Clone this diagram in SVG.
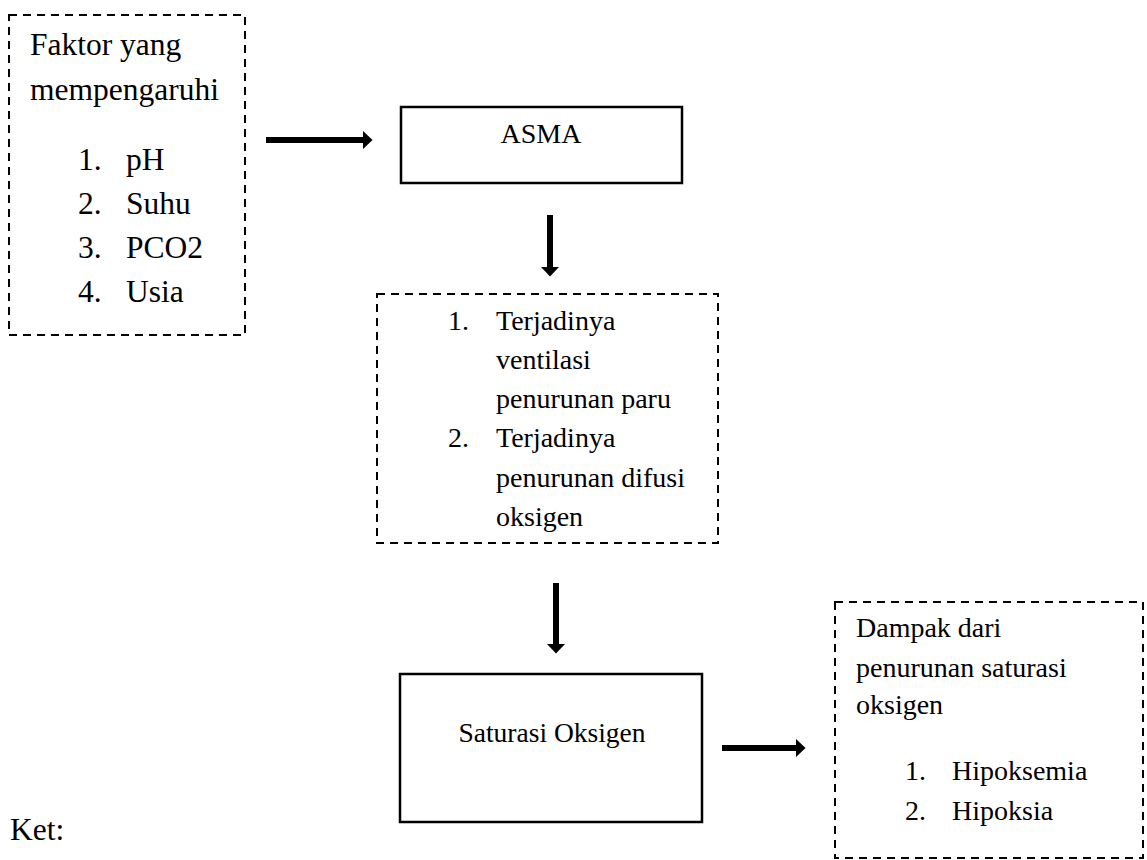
<svg xmlns="http://www.w3.org/2000/svg" width="1147" height="860" viewBox="0 0 1147 860">
<style>
text{font-family:"Liberation Serif","Times New Roman",serif;fill:#000;}
.t{font-size:28px;}
.f{font-size:31.5px;}
.b{font-size:27.5px;}
.dash{fill:none;stroke:#000;stroke-width:2;stroke-dasharray:8,6;}
.solid{fill:none;stroke:#000;stroke-width:2.5;}
.conn{stroke:#000;stroke-width:6;fill:none;}
</style>
<defs>
<marker id="ah" markerWidth="3" markerHeight="3" refX="0" refY="1.5" orient="auto" markerUnits="strokeWidth">
<path d="M0,0 L1.6,1.5 L0,3 z" fill="#000"/>
</marker>
</defs>
<rect width="1147" height="860" fill="#fff"/>
<g id="faktor">
<rect class="dash" x="9" y="15" width="236" height="320"/>
<text class="f" x="30" y="55">Faktor yang</text>
<text class="f" x="30" y="100">mempengaruhi</text>
<text class="f" x="78" y="170">1.</text><text class="f" x="126" y="170">pH</text>
<text class="f" x="78" y="214">2.</text><text class="f" x="126" y="214">Suhu</text>
<text class="f" x="78" y="258">3.</text><text class="f" x="126" y="258">PCO2</text>
<text class="f" x="78" y="302">4.</text><text class="f" x="126" y="302">Usia</text>
</g>
<g id="asma">
<rect class="solid" x="401" y="107" width="281" height="76"/>
<text class="t" x="541" y="143" text-anchor="middle">ASMA</text>
</g>
<g id="proses">
<rect class="dash" x="377" y="294" width="341" height="249"/>
<text class="t" x="448" y="330">1.</text><text class="t" x="496" y="330">Terjadinya</text>
<text class="t" x="496" y="369">ventilasi</text>
<text class="t" x="496" y="408">penurunan paru</text>
<text class="t" x="448" y="447">2.</text><text class="t" x="496" y="447">Terjadinya</text>
<text class="t" x="496" y="487">penurunan difusi</text>
<text class="t" x="496" y="526">oksigen</text>
</g>
<g id="saturasi">
<rect class="solid" x="400" y="674" width="302" height="148"/>
<text class="b" x="552" y="742" text-anchor="middle">Saturasi Oksigen</text>
</g>
<g id="dampak">
<rect class="dash" x="835" y="602" width="308" height="256"/>
<text class="t" x="856" y="637">Dampak dari</text>
<text class="t" x="856" y="677">penurunan saturasi</text>
<text class="t" x="856" y="714">oksigen</text>
<text class="t" x="905" y="780">1.</text><text class="t" x="952" y="780">Hipoksemia</text>
<text class="t" x="905" y="820">2.</text><text class="t" x="952" y="820">Hipoksia</text>
</g>
<g id="ket">
<text class="f" x="10" y="840">Ket:</text>
</g>
<g id="connectors">
<line class="conn" x1="266" y1="140" x2="363" y2="140" marker-end="url(#ah)"/>
<line class="conn" x1="550" y1="215" x2="550" y2="267" marker-end="url(#ah)"/>
<line class="conn" x1="556" y1="583" x2="556" y2="644" marker-end="url(#ah)"/>
<line class="conn" x1="722" y1="748" x2="796" y2="748" marker-end="url(#ah)"/>
</g>
</svg>
